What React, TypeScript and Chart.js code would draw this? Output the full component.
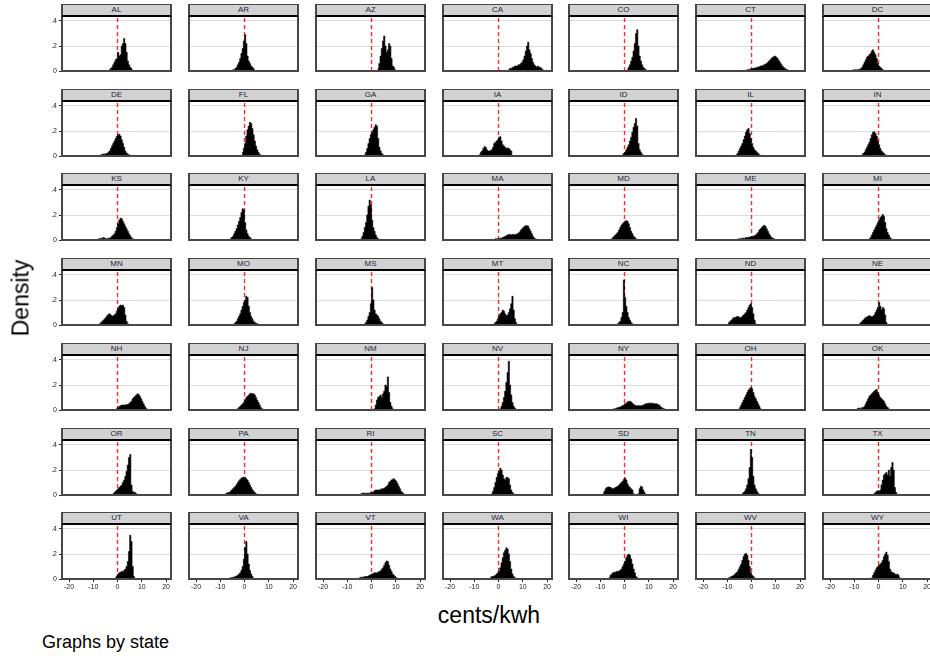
import React, { useEffect, useRef } from "react";
import { Chart, registerables } from "chart.js";

Chart.register(...registerables);

// ---------------- DATA ----------------
const STATES = [
  "AL", "AR", "AZ", "CA", "CO", "CT", "DC",
  "DE", "FL", "GA", "IA", "ID", "IL", "IN",
  "KS", "KY", "LA", "MA", "MD", "ME", "MI",
  "MN", "MO", "MS", "MT", "NC", "ND", "NE",
  "NH", "NJ", "NM", "NV", "NY", "OH", "OK",
  "OR", "PA", "RI", "SC", "SD", "TN", "TX",
  "UT", "VA", "VT", "WA", "WI", "WV", "WY",
];

// histogram bin width (cents/kwh); each state's densities start at its left bin edge
const BIN_WIDTH = 0.5;

const AL = [0.01, 0.02, 0.03, 0.05, 0.07, 0.09, 0.1, 0.15, 0.12, 0.13, 0.2, 0.22, 0.26, 0.22, 0.15, 0.08, 0.05, 0.03, 0.02];
const AR = [0.01, 0.01, 0.02, 0.03, 0.05, 0.07, 0.1, 0.14, 0.18, 0.24, 0.29, 0.22, 0.12, 0.08, 0.06, 0.04, 0.03, 0.02];
const AZ = [0.02, 0.06, 0.12, 0.18, 0.24, 0.28, 0.2, 0.15, 0.17, 0.22, 0.2, 0.1, 0.04, 0.03, 0.01];
const CA = [0.01, 0.02, 0.02, 0.03, 0.03, 0.04, 0.04, 0.04, 0.05, 0.05, 0.06, 0.07, 0.09, 0.12, 0.16, 0.2, 0.23, 0.17, 0.14, 0.1, 0.07, 0.05, 0.04, 0.03, 0.04, 0.03, 0.03, 0.02, 0.01];
const CO = [0.01, 0.03, 0.05, 0.08, 0.11, 0.16, 0.22, 0.3, 0.33, 0.2, 0.12, 0.08, 0.05, 0.03, 0.02, 0.01];
const CT = [0.005, 0.01, 0.01, 0.015, 0.015, 0.02, 0.02, 0.025, 0.025, 0.03, 0.03, 0.035, 0.04, 0.04, 0.045, 0.05, 0.055, 0.06, 0.07, 0.08, 0.09, 0.1, 0.11, 0.115, 0.12, 0.11, 0.1, 0.085, 0.07, 0.055, 0.04, 0.03, 0.02, 0.015, 0.01, 0.005];
const DC = [0.005, 0.01, 0.01, 0.01, 0.01, 0.01, 0.015, 0.02, 0.03, 0.05, 0.07, 0.09, 0.11, 0.12, 0.13, 0.14, 0.16, 0.17, 0.15, 0.13, 0.1, 0.06, 0.04, 0.03, 0.02, 0.01, 0.005];
const DE = [0.01, 0.015, 0.015, 0.015, 0.02, 0.02, 0.03, 0.04, 0.06, 0.08, 0.1, 0.12, 0.14, 0.16, 0.17, 0.175, 0.16, 0.13, 0.1, 0.07, 0.04, 0.025, 0.015, 0.01];
const FL = [0.03, 0.06, 0.1, 0.16, 0.21, 0.24, 0.27, 0.26, 0.22, 0.17, 0.12, 0.08, 0.05, 0.03, 0.015, 0.005];
const GA = [0.01, 0.03, 0.06, 0.1, 0.14, 0.17, 0.19, 0.21, 0.23, 0.25, 0.24, 0.14, 0.07, 0.04, 0.02, 0.01];
const IA = [0.01, 0.03, 0.04, 0.06, 0.075, 0.07, 0.05, 0.04, 0.04, 0.045, 0.05, 0.07, 0.1, 0.11, 0.12, 0.13, 0.15, 0.155, 0.12, 0.09, 0.08, 0.07, 0.06, 0.065, 0.06, 0.05, 0.04];
const ID = [0.01, 0.02, 0.03, 0.05, 0.07, 0.09, 0.12, 0.15, 0.19, 0.23, 0.26, 0.3, 0.24, 0.1, 0.05, 0.03, 0.015, 0.005];
const IL = [0.01, 0.02, 0.04, 0.06, 0.08, 0.1, 0.13, 0.16, 0.19, 0.21, 0.22, 0.18, 0.14, 0.1, 0.07, 0.05, 0.04, 0.03, 0.02, 0.01, 0.005];
const IN = [0.01, 0.02, 0.03, 0.05, 0.07, 0.09, 0.11, 0.14, 0.17, 0.19, 0.195, 0.18, 0.16, 0.12, 0.09, 0.06, 0.04, 0.03, 0.02, 0.01, 0.005];
const KS = [0.01, 0.01, 0.015, 0.015, 0.02, 0.015, 0.01, 0.01, 0.015, 0.015, 0.02, 0.03, 0.04, 0.05, 0.07, 0.1, 0.13, 0.16, 0.175, 0.17, 0.15, 0.13, 0.11, 0.09, 0.07, 0.05, 0.035, 0.02, 0.01, 0.005];
const KY = [0.01, 0.02, 0.03, 0.05, 0.07, 0.09, 0.12, 0.15, 0.18, 0.22, 0.25, 0.24, 0.14, 0.08, 0.05, 0.03, 0.02, 0.01];
const LA = [0.01, 0.03, 0.06, 0.1, 0.14, 0.2, 0.27, 0.32, 0.28, 0.16, 0.1, 0.07, 0.04, 0.02, 0.01];
const MA = [0.01, 0.01, 0.01, 0.01, 0.015, 0.015, 0.02, 0.025, 0.03, 0.035, 0.04, 0.045, 0.045, 0.04, 0.045, 0.045, 0.045, 0.045, 0.05, 0.055, 0.065, 0.08, 0.09, 0.1, 0.11, 0.115, 0.115, 0.11, 0.09, 0.07, 0.05, 0.03, 0.015, 0.01, 0.005];
const MD = [0.01, 0.02, 0.03, 0.04, 0.05, 0.06, 0.08, 0.1, 0.12, 0.13, 0.14, 0.15, 0.155, 0.15, 0.13, 0.1, 0.07, 0.05, 0.03, 0.02, 0.01];
const ME = [0.005, 0.01, 0.01, 0.01, 0.015, 0.015, 0.015, 0.02, 0.02, 0.02, 0.025, 0.025, 0.03, 0.03, 0.035, 0.04, 0.05, 0.06, 0.08, 0.09, 0.1, 0.11, 0.118, 0.11, 0.09, 0.07, 0.05, 0.035, 0.02, 0.015, 0.01, 0.005];
const MI = [0.01, 0.02, 0.04, 0.06, 0.08, 0.1, 0.12, 0.14, 0.16, 0.18, 0.19, 0.205, 0.19, 0.14, 0.09, 0.06, 0.04, 0.02, 0.01];
const MN = [0.005, 0.01, 0.02, 0.03, 0.04, 0.05, 0.06, 0.075, 0.085, 0.09, 0.08, 0.07, 0.075, 0.08, 0.09, 0.11, 0.13, 0.15, 0.16, 0.155, 0.16, 0.14, 0.08, 0.03, 0.01];
const MO = [0.01, 0.02, 0.03, 0.05, 0.07, 0.09, 0.12, 0.15, 0.18, 0.2, 0.23, 0.22, 0.15, 0.1, 0.07, 0.05, 0.03, 0.02, 0.015, 0.01, 0.005];
const MS = [0.01, 0.02, 0.04, 0.07, 0.1, 0.17, 0.3, 0.2, 0.12, 0.09, 0.08, 0.07, 0.05, 0.03, 0.02, 0.01];
const MT = [0.01, 0.02, 0.03, 0.05, 0.07, 0.09, 0.1, 0.12, 0.11, 0.09, 0.075, 0.08, 0.1, 0.13, 0.17, 0.23, 0.12, 0.05, 0.02];
const NC = [0.01, 0.02, 0.03, 0.06, 0.1, 0.36, 0.22, 0.15, 0.1, 0.06, 0.04, 0.02, 0.01];
const ND = [0.005, 0.02, 0.03, 0.04, 0.05, 0.06, 0.06, 0.065, 0.07, 0.065, 0.06, 0.06, 0.07, 0.08, 0.09, 0.1, 0.12, 0.14, 0.16, 0.17, 0.14, 0.09, 0.04, 0.01];
const NE = [0.01, 0.02, 0.03, 0.04, 0.05, 0.06, 0.065, 0.07, 0.075, 0.07, 0.065, 0.07, 0.08, 0.1, 0.12, 0.14, 0.18, 0.15, 0.12, 0.14, 0.13, 0.08, 0.02];
const NH = [0.015, 0.02, 0.03, 0.035, 0.04, 0.04, 0.04, 0.04, 0.045, 0.045, 0.05, 0.06, 0.07, 0.09, 0.1, 0.11, 0.12, 0.13, 0.125, 0.11, 0.09, 0.07, 0.05, 0.03, 0.015, 0.005];
const NJ = [0.005, 0.01, 0.02, 0.03, 0.04, 0.05, 0.06, 0.08, 0.1, 0.11, 0.12, 0.13, 0.135, 0.13, 0.13, 0.12, 0.1, 0.08, 0.06, 0.04, 0.02, 0.01, 0.005];
const NM = [0.01, 0.04, 0.08, 0.1, 0.11, 0.12, 0.1, 0.13, 0.15, 0.2, 0.19, 0.265, 0.14, 0.06, 0.03, 0.01];
const NV = [0.01, 0.03, 0.06, 0.1, 0.15, 0.22, 0.3, 0.39, 0.2, 0.12, 0.06, 0.03, 0.015, 0.005];
const NY = [0.005, 0.01, 0.01, 0.015, 0.02, 0.02, 0.025, 0.03, 0.035, 0.04, 0.05, 0.055, 0.065, 0.07, 0.07, 0.065, 0.055, 0.045, 0.04, 0.035, 0.035, 0.035, 0.035, 0.035, 0.035, 0.04, 0.045, 0.05, 0.05, 0.055, 0.055, 0.055, 0.055, 0.055, 0.05, 0.05, 0.05, 0.045, 0.04, 0.03, 0.02, 0.015, 0.01, 0.005];
const OH = [0.005, 0.02, 0.04, 0.06, 0.08, 0.1, 0.12, 0.14, 0.16, 0.17, 0.18, 0.17, 0.14, 0.11, 0.09, 0.07, 0.05, 0.03, 0.01];
const OK = [0.01, 0.015, 0.015, 0.01, 0.02, 0.02, 0.03, 0.05, 0.07, 0.09, 0.11, 0.12, 0.13, 0.14, 0.15, 0.16, 0.165, 0.14, 0.12, 0.1, 0.09, 0.08, 0.07, 0.05, 0.03, 0.02, 0.01];
const OR = [0.01, 0.02, 0.03, 0.04, 0.05, 0.06, 0.07, 0.08, 0.1, 0.12, 0.15, 0.19, 0.24, 0.3, 0.325, 0.08, 0.03, 0.02, 0.02, 0.01];
const PA = [0.01, 0.015, 0.02, 0.02, 0.03, 0.04, 0.05, 0.06, 0.07, 0.085, 0.1, 0.115, 0.125, 0.135, 0.14, 0.143, 0.14, 0.13, 0.12, 0.1, 0.08, 0.06, 0.045, 0.03, 0.02, 0.01, 0.005];
const RI = [0.01, 0.015, 0.015, 0.015, 0.015, 0.015, 0.015, 0.015, 0.02, 0.02, 0.025, 0.035, 0.04, 0.04, 0.04, 0.04, 0.045, 0.05, 0.05, 0.055, 0.06, 0.07, 0.08, 0.1, 0.11, 0.12, 0.125, 0.13, 0.12, 0.11, 0.09, 0.07, 0.05, 0.03, 0.02, 0.01];
const SC = [0.01, 0.03, 0.06, 0.1, 0.14, 0.17, 0.19, 0.215, 0.2, 0.16, 0.13, 0.12, 0.14, 0.14, 0.13, 0.08, 0.04, 0.02, 0.01, 0.005];
const SD = [0.01, 0.03, 0.05, 0.06, 0.065, 0.065, 0.06, 0.055, 0.05, 0.055, 0.06, 0.065, 0.07, 0.08, 0.09, 0.1, 0.11, 0.125, 0.135, 0.12, 0.09, 0.07, 0.06, 0.05, 0.04, 0.01, 0, 0, 0, 0.01, 0.05, 0.07, 0.065, 0.04, 0.02, 0.005];
const TN = [0.01, 0.02, 0.03, 0.05, 0.08, 0.13, 0.22, 0.365, 0.3, 0.15, 0.08, 0.05, 0.03, 0.015, 0.005];
const TX = [0.005, 0.01, 0.02, 0.03, 0.035, 0.03, 0.04, 0.08, 0.12, 0.16, 0.17, 0.18, 0.16, 0.2, 0.15, 0.22, 0.26, 0.2, 0.06, 0.02, 0.005];
const UT = [0.01, 0.025, 0.04, 0.05, 0.055, 0.06, 0.06, 0.07, 0.08, 0.1, 0.14, 0.22, 0.35, 0.3, 0.1, 0.02, 0.005];
const VA = [0.005, 0.01, 0.01, 0.015, 0.015, 0.02, 0.025, 0.03, 0.04, 0.05, 0.07, 0.1, 0.16, 0.25, 0.3, 0.2, 0.12, 0.07, 0.04, 0.02, 0.005];
const VT = [0.005, 0.01, 0.015, 0.015, 0.015, 0.02, 0.02, 0.02, 0.025, 0.03, 0.035, 0.04, 0.045, 0.05, 0.05, 0.05, 0.055, 0.06, 0.065, 0.08, 0.09, 0.11, 0.13, 0.145, 0.14, 0.11, 0.08, 0.06, 0.04, 0.03, 0.02, 0.01, 0.005];
const WA = [0.01, 0.02, 0.02, 0.025, 0.03, 0.04, 0.05, 0.06, 0.09, 0.13, 0.17, 0.21, 0.23, 0.25, 0.24, 0.2, 0.14, 0.08, 0.04, 0.02, 0.01, 0.005];
const WI = [0.01, 0.03, 0.04, 0.05, 0.055, 0.055, 0.06, 0.06, 0.065, 0.07, 0.08, 0.1, 0.12, 0.14, 0.17, 0.19, 0.2, 0.19, 0.16, 0.12, 0.08, 0.05, 0.02, 0.01];
const WV = [0.005, 0.01, 0.015, 0.02, 0.025, 0.03, 0.04, 0.05, 0.06, 0.08, 0.1, 0.12, 0.15, 0.18, 0.2, 0.205, 0.19, 0.15, 0.1, 0.05, 0.03, 0.02, 0.01];
const WY = [0.01, 0.03, 0.05, 0.07, 0.09, 0.1, 0.11, 0.12, 0.13, 0.15, 0.18, 0.2, 0.215, 0.19, 0.14, 0.08, 0.06, 0.05, 0.05, 0.04, 0.035, 0.04, 0.03, 0.01];

// left edge of the first bin for each state (same order as STATES)
const STARTS = [
  -3.5, -5, 2.5, 4, 1, -2.5, -11,
  -7, -1, -3, -8, -1, -6.5, -7,
  -8, -6, -4.5, -1.5, -5.5, -6, -4,
  -8, -4.5, -3, -2, -3, -10, -8,
  -0.5, -3.5, 1, 0.5, -5, -5.5, -9,
  -2, -8, -4.5, -3, -9, -4, -2.5,
  -1, -6.5, -5.5, -3.5, -6.5, -10, -3,
];

const HEIGHTS = [
  AL, AR, AZ, CA, CO, CT, DC,
  DE, FL, GA, IA, ID, IL, IN,
  KS, KY, LA, MA, MD, ME, MI,
  MN, MO, MS, MT, NC, ND, NE,
  NH, NJ, NM, NV, NY, OH, OK,
  OR, PA, RI, SC, SD, TN, TX,
  UT, VA, VT, WA, WI, WV, WY,
];

const X_TICKS = [-20, -10, 0, 10, 20];
const X_TICK_LABELS = ["-20", "-10", "0", "10", "20"];
const Y_TICKS = [0, 0.2, 0.4];
const Y_TICK_LABELS = ["0", ".2", ".4"];
const REFERENCE_X = 0;

const X_TITLE = "cents/kwh";
const Y_TITLE = "Density";
const NOTE = "Graphs by state";

// ---------------- LAYOUT / STYLE ----------------
const X_MIN = -22.9;
const X_MAX = 22.05;
const Y_MAX = 0.432;
const NCOLS = 7;
const PANEL_W = 109;
const PLOT_H = 54;
const AXIS_L = 30;
const PAD_R = 4;
const PAD_T = 10;
const AXIS_B = 20;
const FONT = "'Liberation Sans', Arial, Helvetica, sans-serif";

const framePlugin = {
  id: "panelFrame",
  afterDatasetsDraw(chart: any) {
    const { ctx, chartArea: a } = chart;
    ctx.save();
    ctx.strokeStyle = "#474747";
    ctx.lineWidth = 2;
    ctx.beginPath();
    ctx.moveTo(a.left, a.top);
    ctx.lineTo(a.left, a.bottom);
    ctx.lineTo(a.right, a.bottom);
    ctx.lineTo(a.right, a.top);
    ctx.stroke();
    ctx.restore();
  },
};

function Panel({ idx }: { idx: number }) {
  const ref = useRef<HTMLCanvasElement | null>(null);
  const r = Math.floor(idx / NCOLS);
  const c = idx % NCOLS;
  const left = Math.round(62.3 + c * 126.75);
  const bottom = Math.round(70.9 + r * 84.75);
  const isLeft = c === 0;
  const isBottom = r === 6;
  const cw = AXIS_L + PANEL_W + PAD_R;
  const ch = PAD_T + PLOT_H + AXIS_B;

  useEffect(() => {
    const start = STARTS[idx];
    const h = HEIGHTS[idx];
    const pts = h.map((v, i) => ({ x: start + i * BIN_WIDTH, y: v }));
    pts.push({ x: start + h.length * BIN_WIDTH, y: 0 });

    const chart = new Chart(ref.current as HTMLCanvasElement, {
      type: "line",
      data: {
        datasets: [
          {
            data: pts,
            stepped: "before",
            fill: "origin",
            backgroundColor: "#000",
            borderColor: "#000",
            borderWidth: 0.6,
            pointRadius: 0,
            order: 0,
          } as any,
          {
            data: [
              { x: REFERENCE_X, y: 0 },
              { x: REFERENCE_X, y: Y_MAX },
            ],
            borderColor: "rgba(255,20,20,0.9)",
            borderWidth: 1.4,
            borderDash: [4, 3],
            pointRadius: 0,
            fill: false,
            order: 1,
          } as any,
        ],
      },
      options: {
        animation: false,
        responsive: false,
        devicePixelRatio: 1,
        events: [],
        layout: { padding: { top: PAD_T, right: PAD_R, left: 0, bottom: 0 } },
        plugins: {
          legend: { display: false },
          tooltip: { enabled: false },
          title: { display: false },
        },
        scales: {
          x: {
            type: "linear",
            min: X_MIN,
            max: X_MAX,
            afterBuildTicks: (s: any) => {
              s.ticks = X_TICKS.map((v) => ({ value: v }));
            },
            afterFit: (s: any) => {
              s.height = AXIS_B;
            },
            border: { display: false },
            grid: {
              display: true,
              drawOnChartArea: false,
              drawTicks: isBottom,
              tickLength: 3,
              tickColor: "#222",
              color: "#222",
            },
            ticks: {
              display: isBottom,
              autoSkip: false,
              maxRotation: 0,
              minRotation: 0,
              padding: 1,
              color: "#222",
              font: { size: 7, family: FONT },
              callback: (v: any) => X_TICK_LABELS[X_TICKS.indexOf(Number(v))] ?? "",
            },
          },
          y: {
            type: "linear",
            min: 0,
            max: Y_MAX,
            afterBuildTicks: (s: any) => {
              s.ticks = Y_TICKS.map((v) => ({ value: v }));
            },
            afterFit: (s: any) => {
              s.width = AXIS_L;
            },
            border: { display: false },
            grid: {
              color: (ctx: any) =>
                ctx.tick && ctx.tick.value === 0 ? "rgba(0,0,0,0)" : "#dcdcdc",
              lineWidth: 1,
              drawTicks: isLeft,
              tickLength: 3,
              tickColor: "#222",
            },
            ticks: {
              display: isLeft,
              padding: 2,
              color: "#222",
              font: { size: 7, family: FONT },
              callback: (v: any) => Y_TICK_LABELS[Y_TICKS.indexOf(Number(v))] ?? "",
            },
          },
        },
      },
      plugins: [framePlugin],
    } as any);
    return () => chart.destroy();
  }, [idx]);

  return (
    <>
      <canvas
        ref={ref}
        width={cw}
        height={ch}
        style={{
          position: "absolute",
          left: left - AXIS_L,
          top: bottom - PLOT_H - PAD_T,
          width: cw,
          height: ch,
        }}
      />
      <div
        style={{
          position: "absolute",
          left: left - 1,
          top: bottom - 67,
          width: PANEL_W + 2,
          height: 13,
          boxSizing: "border-box",
          background: "#d2d2d2",
          borderTop: "1px solid #474747",
          borderLeft: "2px solid #474747",
          borderRight: "2px solid #474747",
          borderBottom: "2px solid #000",
          fontFamily: FONT,
          fontSize: 8,
          lineHeight: "10px",
          textAlign: "center",
          color: "#1e2638",
          whiteSpace: "nowrap",
        }}
      >
        {STATES[idx]}
      </div>
    </>
  );
}

export default function App() {
  return (
    <div
      style={{
        position: "absolute",
        left: 0,
        top: 0,
        width: 930,
        height: 656,
        overflow: "hidden",
        background: "#fff",
        fontFamily: FONT,
      }}
    >
      {STATES.map((s, i) => (
        <Panel key={s} idx={i} />
      ))}
      <div
        style={{
          position: "absolute",
          left: 20.5,
          top: 297.5,
          transform: "translate(-50%, -50%) rotate(-90deg)",
          fontSize: 23,
          lineHeight: "23px",
          whiteSpace: "nowrap",
          color: "#000",
        }}
      >
        {Y_TITLE}
      </div>
      <div
        style={{
          position: "absolute",
          left: 489,
          top: 603.5,
          transform: "translateX(-50%)",
          fontSize: 23,
          lineHeight: "23px",
          whiteSpace: "nowrap",
          color: "#000",
        }}
      >
        {X_TITLE}
      </div>
      <div
        style={{
          position: "absolute",
          left: 42,
          top: 633,
          fontSize: 18,
          lineHeight: "18px",
          whiteSpace: "nowrap",
          color: "#000",
        }}
      >
        {NOTE}
      </div>
    </div>
  );
}
